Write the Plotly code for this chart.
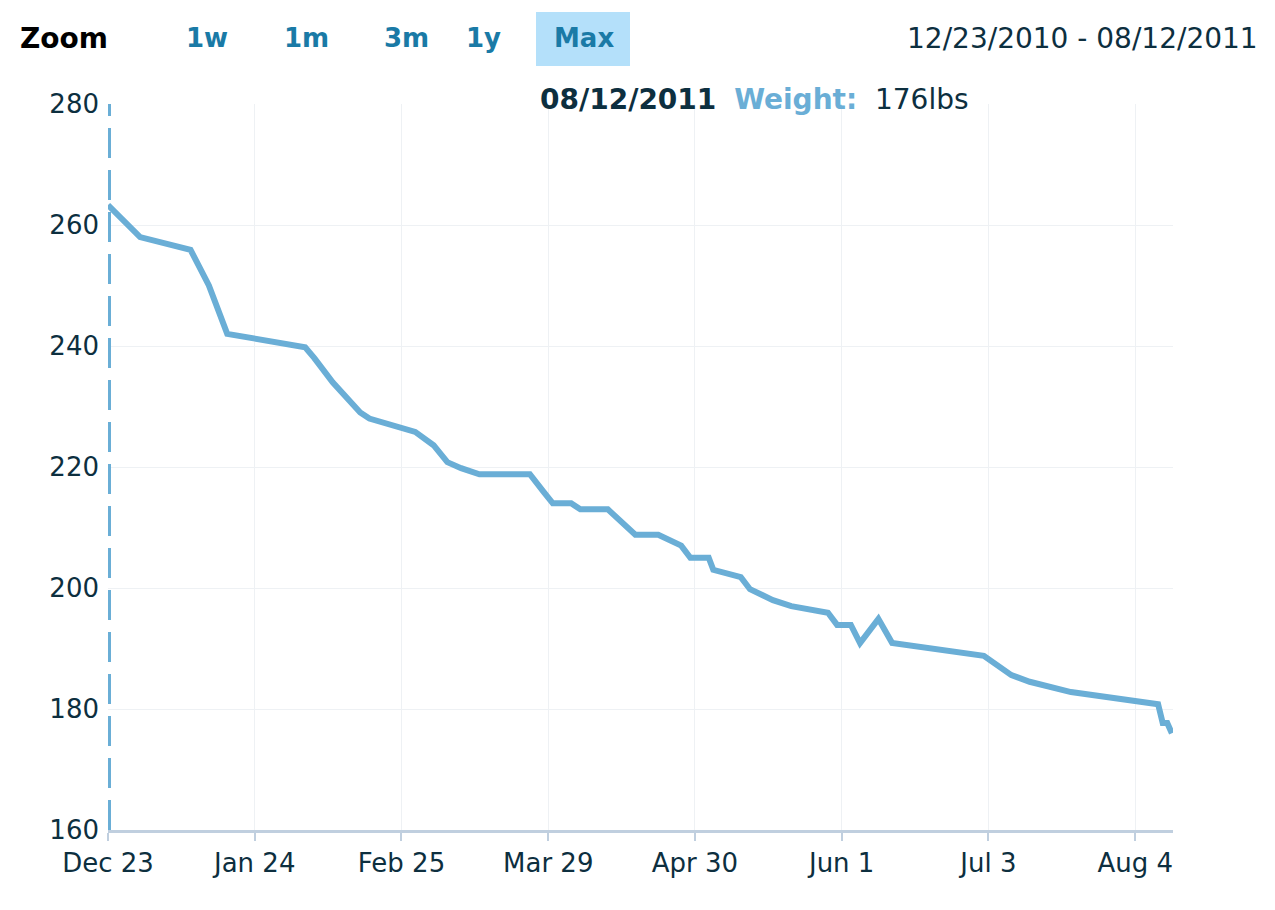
import plotly.graph_objects as go

# weight log
dates = ["2010-12-23", "2010-12-30", "2011-01-10", "2011-01-14", "2011-01-18", "2011-02-04",
         "2011-02-06", "2011-02-07", "2011-02-09", "2011-02-10", "2011-02-16", "2011-02-18",
         "2011-02-28", "2011-03-04", "2011-03-07", "2011-03-10", "2011-03-14", "2011-03-25",
         "2011-03-28", "2011-03-30", "2011-04-03", "2011-04-05", "2011-04-11", "2011-04-14",
         "2011-04-17", "2011-04-22", "2011-04-27", "2011-04-29", "2011-05-03", "2011-05-04",
         "2011-05-10", "2011-05-12", "2011-05-17", "2011-05-21", "2011-05-29", "2011-05-31",
         "2011-06-03", "2011-06-05", "2011-06-09", "2011-06-12", "2011-07-02", "2011-07-08",
         "2011-07-12", "2011-07-21", "2011-08-09", "2011-08-10", "2011-08-11", "2011-08-12"]
weights = [263.3, 258, 255.9, 250, 242, 239.8, 238, 236.9, 234.9, 234, 229, 228,
           225.8, 223.6, 220.8, 219.8, 218.8, 218.8, 215.9, 214, 214, 213, 213, 211,
           208.8, 208.8, 207, 205, 205, 203, 201.8, 199.8, 198, 197, 195.9, 193.9,
           193.9, 190.9, 194.9, 190.9, 188.8, 185.6, 184.5, 182.8, 180.8, 177.7, 177.7, 176]

tick_vals = ["2010-12-23", "2011-01-24", "2011-02-25", "2011-03-29", "2011-04-30",
             "2011-06-01", "2011-07-03", "2011-08-04"]
tick_text = ["Dec 23", "Jan 24", "Feb 25", "Mar 29", "Apr 30", "Jun 1", "Jul 3", "Aug 4"]
zoom_buttons = ["1w", "1m", "3m", "1y", "Max"]
btn_x = [186, 284, 384, 485, 586]

blue = "#6aaed6"
dark = "#0d2f3f"

fig = go.Figure()
fig.add_trace(go.Scatter(x=dates, y=weights, mode="lines",
                         line=dict(color=blue, width=6), hoverinfo="skip"))

# dashed crosshair at the start
fig.add_shape(type="line", xref="x", yref="paper", x0=dates[0], x1=dates[0], y0=0, y1=1,
              line=dict(color=blue, width=6, dash="30px,12px"))

fig.update_layout(
    width=1275, height=910, showlegend=False,
    plot_bgcolor="white", paper_bgcolor="white",
    margin=dict(l=100, r=110, t=96, b=88),
    font=dict(family="DejaVu Sans", color=dark, size=26),
    xaxis=dict(range=["2010-12-23", "2011-08-12 06:00"], tickvals=tick_vals, ticktext=tick_text,
               showgrid=True, gridcolor="#eef1f4", showline=True, linecolor="#c0cfdf", linewidth=3,
               ticks="outside", tickcolor="#c0cfdf", ticklen=8, tickwidth=2, zeroline=False),
    yaxis=dict(range=[160, 280], dtick=20, showgrid=True, gridcolor="#eef1f4", zeroline=False,
               ticks="", ticklabelstandoff=8),
)

# zoom bar
ann = [dict(x=20, y=38, text="<b>Zoom</b>", font=dict(size=28, color="black"), xanchor="left")]
fig.add_shape(type="rect", xref="paper", yref="paper",
              x0=(538 - 110) / 1065, x1=(632 - 110) / 1065,
              y0=(830 - 66) / 726, y1=(830 - 12) / 726,
              fillcolor="#b4e0fa", line=dict(width=0), layer="below")
for b, bx in zip(zoom_buttons, btn_x):
    ann.append(dict(x=bx, y=38, text="<b>%s</b>" % b, font=dict(size=26, color="#1a7aa6")))
ann.append(dict(x=1262, y=38, text="12/23/2010 - 08/12/2011", xanchor="right",
                font=dict(size=28, color=dark)))
ann.append(dict(x=540, y=100, xanchor="left",
                text="<b>08/12/2011</b>  <span style='color:%s'><b>Weight:</b></span>  176lbs" % blue,
                font=dict(size=28, color=dark)))
for a in ann:
    a.update(xref="paper", yref="paper", showarrow=False, yanchor="middle")
    a["x"] = (a["x"] - 110) / 1065
    a["y"] = (830 - a["y"]) / 726
fig.update_layout(annotations=ann)

fig.write_html("out.html")
